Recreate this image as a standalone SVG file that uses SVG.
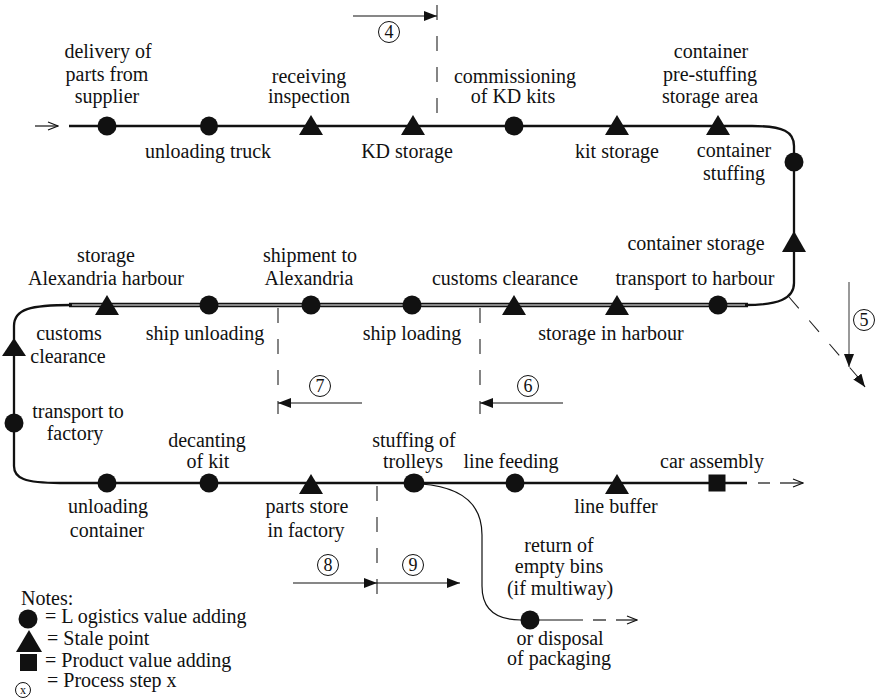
<svg xmlns="http://www.w3.org/2000/svg" width="880" height="698" viewBox="0 0 880 698" font-family="'Liberation Serif', 'DejaVu Serif', serif">
  <style>
    text { font-family: "Liberation Serif", "DejaVu Serif", serif; font-size: 20px; fill: #111; }
    .c { text-anchor: middle; }
    .num { font-size: 18px; text-anchor: middle; }
    .dot { fill: #111; }
    .tri { fill: #111; }
    .main { fill: none; stroke: #111; stroke-width: 2.3; }
    .dbl { fill: none; stroke: #111; stroke-width: 1.7; }
    .thin { fill: none; stroke: #111; stroke-width: 1.2; }
    .dash { fill: none; stroke: #222; stroke-width: 1.1; stroke-dasharray: 15 16; }
    .ring { fill: none; stroke: #111; stroke-width: 1; }
  </style>
  <defs>
    <marker id="solidHead" markerUnits="userSpaceOnUse" markerWidth="13" markerHeight="10" refX="13" refY="5" orient="auto">
      <path d="M0,0 L13,5 L0,10 z" fill="#111"/>
    </marker>
    <marker id="openHead" markerUnits="userSpaceOnUse" markerWidth="12" markerHeight="10" refX="11" refY="5" orient="auto">
      <path d="M1,1 L11,5 L1,9" fill="none" stroke="#111" stroke-width="1.2"/>
    </marker>
  </defs>

  <rect width="880" height="698" fill="#fff"/>

  <!-- flow lines -->
  <g id="connectors">
    <!-- incoming arrow -->
    <line class="thin" x1="35" y1="126" x2="58" y2="126" marker-end="url(#openHead)"/>
    <!-- upper row and right-hand bend -->
    <path class="main" d="M69,126 L752,126 C784,126 794,132 794,146 L794,283 C794,299 778,305 745,305"/>
    <!-- sea leg (double line) -->
    <line class="dbl" x1="69" y1="303.6" x2="748" y2="303.6"/>
    <line class="dbl" x1="69" y1="306.4" x2="748" y2="306.4"/>
    <!-- left-hand bend and lower row -->
    <path class="main" d="M72,305 C30,305 14,309 14,326 L14,466 C14,478 24,483 60,483 L747,483"/>
    <line class="thin" x1="758" y1="483" x2="770" y2="483"/>
    <line class="thin" x1="780" y1="483" x2="803" y2="483" marker-end="url(#openHead)"/>
    <!-- return / disposal branch -->
    <path class="thin" d="M421,484 C463,487 482,505 482,535 L482,586 C482,608 494,620 521,620 L583,620"/>
    <line class="thin" x1="593" y1="620" x2="606" y2="620"/>
    <line class="thin" x1="616" y1="620" x2="637" y2="620" marker-end="url(#openHead)"/>

    <!-- process step boundaries -->
    <line class="dash" x1="437" y1="5" x2="437" y2="118"/>
    <line class="dash" x1="278" y1="308" x2="278" y2="414"/>
    <line class="dash" x1="480" y1="308" x2="480" y2="414"/>
    <line class="dash" x1="377" y1="486" x2="377" y2="595"/>
    <line class="dash" x1="789" y1="297" x2="857" y2="376"/>
    <line class="thin" x1="857" y1="376" x2="865" y2="387" marker-end="url(#solidHead)"/>

    <!-- process step arrows -->
    <line class="thin" x1="353" y1="16" x2="437" y2="16" marker-end="url(#solidHead)"/>
    <line class="thin" x1="362" y1="403" x2="278" y2="403" marker-end="url(#solidHead)"/>
    <line class="thin" x1="563" y1="403" x2="480" y2="403" marker-end="url(#solidHead)"/>
    <line class="thin" x1="293" y1="583" x2="377" y2="583" marker-end="url(#solidHead)"/>
    <line class="thin" x1="377" y1="583" x2="460" y2="583" marker-end="url(#solidHead)"/>
    <line x1="849" y1="282" x2="849" y2="367" stroke="#555" stroke-width="1.2" marker-end="url(#solidHead)"/>
  </g>

  <!-- process step numbers -->
  <g id="step4"><circle class="ring" cx="389" cy="32" r="10.5"/><text class="num" x="389" y="38">4</text></g>
  <g id="step5"><circle class="ring" cx="864" cy="320" r="10.5"/><text class="num" x="864" y="326">5</text></g>
  <g id="step6"><circle class="ring" cx="528" cy="386" r="10.5"/><text class="num" x="528" y="392">6</text></g>
  <g id="step7"><circle class="ring" cx="320" cy="386" r="10.5"/><text class="num" x="320" y="392">7</text></g>
  <g id="step8"><circle class="ring" cx="328" cy="565" r="10.5"/><text class="num" x="328" y="571">8</text></g>
  <g id="step9"><circle class="ring" cx="413" cy="565" r="10.5"/><text class="num" x="413" y="571">9</text></g>

  <!-- upper row -->
  <g id="delivery">
    <circle class="dot" cx="107" cy="126" r="9.5"/>
    <text class="c" x="108" y="58">delivery of</text>
    <text class="c" x="107" y="81">parts from</text>
    <text class="c" x="107" y="103">supplier</text>
  </g>
  <g id="unloading-truck">
    <ellipse class="dot" cx="209" cy="126" rx="9" ry="9.5"/>
    <text class="c" x="208" y="158">unloading truck</text>
  </g>
  <g id="receiving-inspection">
    <polygon class="tri" points="311,115 323,135 299,135"/>
    <text class="c" x="309" y="83">receiving</text>
    <text class="c" x="309" y="103">inspection</text>
  </g>
  <g id="kd-storage">
    <polygon class="tri" points="413,115 425,135 401,135"/>
    <text class="c" x="407" y="158">KD storage</text>
  </g>
  <g id="commissioning">
    <circle class="dot" cx="514" cy="126" r="9.5"/>
    <text class="c" x="515" y="83">commissioning</text>
    <text class="c" x="513" y="103">of KD kits</text>
  </g>
  <g id="kit-storage">
    <polygon class="tri" points="617,115 629,135 605,135"/>
    <text class="c" x="617" y="158">kit storage</text>
  </g>
  <g id="pre-stuffing-area">
    <polygon class="tri" points="718,115 730,135 706,135"/>
    <text class="c" x="711" y="58">container</text>
    <text class="c" x="710" y="81">pre-stuffing</text>
    <text class="c" x="710" y="103">storage area</text>
  </g>

  <!-- right-hand leg -->
  <g id="container-stuffing">
    <circle class="dot" cx="794" cy="162" r="9.5"/>
    <text class="c" x="734" y="157">container</text>
    <text class="c" x="734" y="180">stuffing</text>
  </g>
  <g id="container-storage">
    <polygon class="tri" points="794,231 806,252 782,252"/>
    <text class="c" x="696" y="250">container storage</text>
  </g>

  <!-- middle row -->
  <g id="transport-harbour">
    <circle class="dot" cx="718" cy="305" r="9.5"/>
    <text class="c" x="695" y="285">transport to harbour</text>
  </g>
  <g id="storage-harbour">
    <polygon class="tri" points="617,295 629,315 605,315"/>
    <text class="c" x="611" y="340">storage in harbour</text>
  </g>
  <g id="customs-export">
    <polygon class="tri" points="514,295 526,315 502,315"/>
    <text class="c" x="505" y="285">customs clearance</text>
  </g>
  <g id="ship-loading">
    <circle class="dot" cx="412" cy="305" r="9.5"/>
    <text class="c" x="412" y="340">ship loading</text>
  </g>
  <g id="shipment">
    <circle class="dot" cx="311" cy="305" r="9.5"/>
    <text class="c" x="310" y="262">shipment to</text>
    <text class="c" x="309" y="285">Alexandria</text>
  </g>
  <g id="ship-unloading">
    <circle class="dot" cx="209" cy="305" r="9.5"/>
    <text class="c" x="205" y="340">ship unloading</text>
  </g>
  <g id="storage-alexandria">
    <polygon class="tri" points="107,295 119,315 95,315"/>
    <text class="c" x="106" y="262">storage</text>
    <text class="c" x="106" y="285">Alexandria harbour</text>
  </g>

  <!-- left-hand leg -->
  <g id="customs-import">
    <polygon class="tri" points="14,338 26,356 2,356"/>
    <text class="c" x="69" y="340">customs</text>
    <text class="c" x="68" y="363">clearance</text>
  </g>
  <g id="transport-factory">
    <circle class="dot" cx="14" cy="423" r="9.5"/>
    <text class="c" x="78" y="418">transport to</text>
    <text class="c" x="75" y="440">factory</text>
  </g>

  <!-- lower row -->
  <g id="unloading-container">
    <circle class="dot" cx="107" cy="483" r="9.5"/>
    <text class="c" x="108" y="513">unloading</text>
    <text class="c" x="107" y="537">container</text>
  </g>
  <g id="decanting">
    <circle class="dot" cx="209" cy="483" r="9.5"/>
    <text class="c" x="207" y="447">decanting</text>
    <text class="c" x="208" y="468">of kit</text>
  </g>
  <g id="parts-store">
    <polygon class="tri" points="311,474 323,494 299,494"/>
    <text class="c" x="307" y="513">parts store</text>
    <text class="c" x="306" y="537">in factory</text>
  </g>
  <g id="stuffing-trolleys">
    <ellipse class="dot" cx="414" cy="483" rx="10.5" ry="9.5"/>
    <text class="c" x="414" y="447">stuffing of</text>
    <text class="c" x="413" y="468">trolleys</text>
  </g>
  <g id="line-feeding">
    <circle class="dot" cx="515" cy="483" r="9.5"/>
    <text class="c" x="511" y="468">line feeding</text>
  </g>
  <g id="line-buffer">
    <polygon class="tri" points="617,474 629,494 605,494"/>
    <text class="c" x="616" y="513">line buffer</text>
  </g>
  <g id="car-assembly">
    <rect class="dot" x="708.5" y="474.5" width="17" height="17"/>
    <text class="c" x="712" y="468">car assembly</text>
  </g>
  <g id="empty-bins">
    <circle class="dot" cx="530" cy="620" r="9.5"/>
    <text class="c" x="559" y="552">return of</text>
    <text class="c" x="559" y="573">empty bins</text>
    <text class="c" x="560" y="595">(if multiway)</text>
    <text class="c" x="560" y="645">or disposal</text>
    <text class="c" x="559" y="665">of packaging</text>
  </g>

  <!-- key -->
  <g id="legend">
    <text x="21" y="605">Notes:</text>
    <circle class="dot" cx="28" cy="619" r="9.5"/>
    <text x="45" y="623">= L ogistics value adding</text>
    <polygon class="tri" points="29,630 42,652 16,652"/>
    <text x="47" y="645">= Stale point</text>
    <rect class="dot" x="20" y="654" width="17" height="17"/>
    <text x="45" y="667">= Product value adding</text>
    <circle class="ring" cx="23" cy="690" r="7.5"/>
    <text x="23" y="694" style="font-size:12px;text-anchor:middle">x</text>
    <text x="47" y="687">= Process step x</text>
  </g>
</svg>
